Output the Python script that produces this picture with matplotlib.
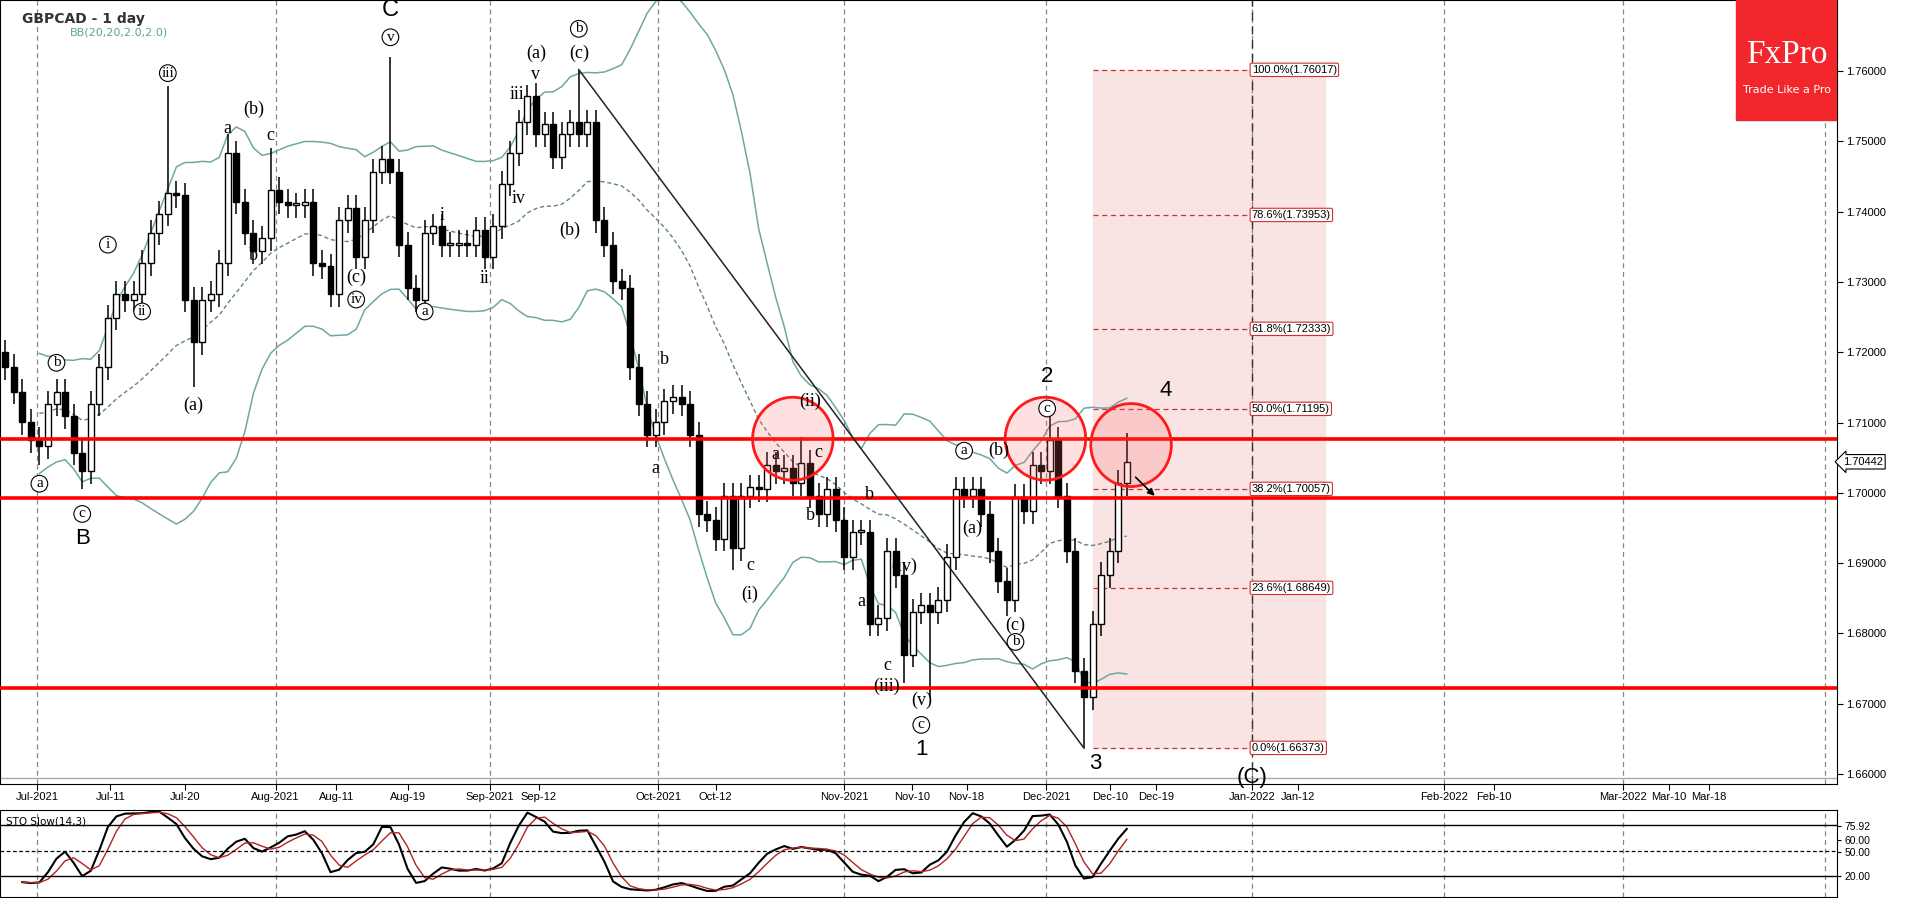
import numpy as np
import pandas as pd
import matplotlib.pyplot as plt
from matplotlib.patches import Rectangle, Ellipse

# daily closes GBPCAD
closes = [1.7179, 1.7144, 1.7101, 1.7075, 1.7066, 1.7127, 1.7144, 1.7109, 1.7057, 1.7031,
          1.7127, 1.7179, 1.7249, 1.7283, 1.7275, 1.7283, 1.7327, 1.7370, 1.7397, 1.7426,
          1.7423, 1.7275, 1.7214, 1.7275, 1.7283, 1.7327, 1.7483, 1.7414, 1.7370, 1.7344,
          1.7362, 1.7431, 1.7414, 1.7409, 1.7409, 1.7414, 1.7327, 1.7322, 1.7283, 1.7388,
          1.7405, 1.7336, 1.7388, 1.7457, 1.7475, 1.7457, 1.7353, 1.7292, 1.7275, 1.7370,
          1.7379, 1.7353, 1.7353, 1.7356, 1.7353, 1.7374, 1.7336, 1.7379, 1.7440, 1.7483,
          1.7527, 1.7565, 1.7510, 1.7524, 1.7478, 1.7510, 1.7527, 1.7510, 1.7527, 1.7388,
          1.7353, 1.7301, 1.7292, 1.7179, 1.7127, 1.7083, 1.7101, 1.7130, 1.7136, 1.7127,
          1.7083, 1.6970, 1.6962, 1.6935, 1.6996, 1.6921, 1.6996, 1.7008, 1.7005, 1.7040,
          1.7031, 1.7036, 1.7014, 1.7043, 1.6996, 1.6970, 1.7005, 1.6962, 1.6909, 1.6944,
          1.6944, 1.6814, 1.6822, 1.6918, 1.6883, 1.6770, 1.6831, 1.6840, 1.6831, 1.6848,
          1.6909, 1.7005, 1.6996, 1.7005, 1.6970, 1.6918, 1.6875, 1.6848, 1.6994, 1.6974,
          1.7040, 1.7031, 1.7075, 1.6996, 1.6918, 1.6747, 1.6709, 1.6814, 1.6883, 1.6918,
          1.7014, 1.7044]
first_open = 1.7200
# notable extremes (index: price)
high_ext = {19: 1.7578, 26: 1.7510, 31: 1.7490, 45: 1.7620, 61: 1.7580, 67: 1.7602, 93: 1.7080,
            122: 1.7110, 131: 1.7085}
low_ext = {4: 1.7040, 9: 1.7005, 22: 1.7150, 85: 1.6890, 105: 1.6730, 108: 1.6710, 117: 1.6825,
           126: 1.6637}

levels = [1.7077, 1.6993, 1.6723]
fib_pct = ["100.0%", "78.6%", "61.8%", "50.0%", "38.2%", "23.6%", "0.0%"]
fib_val = [1.76017, 1.73953, 1.72333, 1.71195, 1.70057, 1.68649, 1.66373]

tick_labels = ["Jul-2021", "Jul-11", "Jul-20", "Aug-2021", "Aug-11", "Aug-19", "Sep-2021", "Sep-12",
               "Oct-2021", "Oct-12", "Nov-2021", "Nov-10", "Nov-18", "Dec-2021", "Dec-10", "Dec-19",
               "Jan-2022", "Jan-12", "Feb-2022", "Feb-10", "Mar-2022", "Mar-10", "Mar-18"]
tick_pos = [3.7, 12.3, 21, 31.6, 38.7, 47, 56.6, 62.3, 76.3, 83, 98, 105.9, 112.3, 121.6, 129,
            134.4, 145.6, 151, 168, 173.9, 188.9, 194.3, 199]
month_pos = [3.7, 31.6, 56.6, 76.3, 98, 121.6, 145.6, 168, 188.9, 212.5]

c = np.array(closes)
o = np.concatenate([[first_open], c[:-1]])
hi = np.maximum(o, c) + 0.0018
lo = np.minimum(o, c) - 0.0018
for k, v in high_ext.items():
    hi[k] = v
for k, v in low_ext.items():
    lo[k] = v
n = len(c)
x = np.arange(n)

s = pd.Series(c)
mid = s.rolling(20, min_periods=5).mean()
sd = s.rolling(20, min_periods=5).std(ddof=0)
up, dn = mid + 2 * sd, mid - 2 * sd

hh = pd.Series(hi).rolling(14, min_periods=3).max()
ll = pd.Series(lo).rolling(14, min_periods=3).min()
k_fast = 100 * (s - ll) / (hh - ll)
k_slow = k_fast.rolling(3, min_periods=1).mean()
d_slow = k_slow.rolling(3, min_periods=1).mean()

fig = plt.figure(figsize=(19.18, 8.98), dpi=100)
ax = fig.add_axes([0.0, 0.127, 0.958, 0.873])
ax2 = fig.add_axes([0.0, 0.001, 0.958, 0.097])
XL = (-0.6, 214)
axfont = dict(fontsize=8, family='Liberation Sans', stretch='condensed')

for m in month_pos:
    ax.axvline(m, color='#888888', ls=(0, (4, 3)), lw=0.9)
    ax2.axvline(m, color='#888888', ls=(0, (4, 3)), lw=0.9)
ax.axvline(145.6, color='#333333', ls=(0, (6, 4)), lw=1.0)

# fib box
ax.add_patch(Rectangle((127, fib_val[-1]), 27.2, fib_val[0] - fib_val[-1], color='#f9e3e3', zorder=0))
for p, v in zip(fib_pct, fib_val):
    ax.plot([127, 145.3], [v, v], color='#d03030', ls=(0, (4, 3)), lw=0.9)
    ax.text(145.6, v, f"{p}({v:.5f})", va='center', ha='left', **axfont,
            bbox=dict(boxstyle='round,pad=0.15', fc='white', ec='#d03030', lw=0.8))

ax.plot(x, up, color='#6fa6a6', lw=1.1)
ax.plot(x, dn, color='#6fa6a6', lw=1.1)
ax.plot(x, mid, color='#5f8585', lw=1.0, ls=(0, (3, 2)))

for i in x:
    ax.vlines(i, lo[i], hi[i], color='black', lw=1.1, zorder=3)
    b0, b1 = min(o[i], c[i]), max(o[i], c[i])
    fc = 'white' if c[i] >= o[i] else 'black'
    ax.add_patch(Rectangle((i - 0.35, b0), 0.7, max(b1 - b0, 0.0003), fc=fc, ec='black', lw=1.0, zorder=4))

for lv in levels:
    ax.axhline(lv, color='#ff0000', lw=2.6, zorder=5)
ax.plot([67, 126], [1.7602, 1.6637], color='#222222', lw=1.1, zorder=5)
for cx, cy in [(92, 1.7077), (121.5, 1.7077), (131.5, 1.7068)]:
    ax.add_patch(Ellipse((cx, cy), 9.4, 0.0118, fc=(1, 0.4, 0.4, 0.2), ec='#ff1a1a', lw=2, zorder=6))
ax.annotate("", xy=(134.5, 1.6993), xytext=(131.8, 1.7025),
            arrowprops=dict(arrowstyle='-|>', color='black', lw=1.2), zorder=7)

serif = 'Liberation Serif'
def lab(i, p, t, circ=False, fs=13, fam=serif):
    kw = dict(fontsize=fs, ha='center', va='center', family=fam, zorder=8)
    if circ:
        kw['bbox'] = dict(boxstyle='circle,pad=0.12', fc='white', ec='black', lw=0.8)
    ax.text(i, p, t, **kw)

lab(4, 1.7038 - 0.0025, 'a', True, 11)
lab(6, 1.7185, 'b', True, 11)
lab(9, 1.6995 - 0.0025, 'c', True, 11)
lab(9, 1.6965 - 0.003, 'B', fs=16, fam='Liberation Sans')
lab(12, 1.7353, 'i', True, 11)
lab(16, 1.7258, 'ii', True, 11)
lab(19, 1.7597, 'iii', True, 11)
lab(22, 1.7125, '(a)')
lab(26, 1.7518, 'a')
lab(29, 1.7545, '(b)')
lab(31, 1.7508, 'c')
lab(29, 1.7337, 'b')
lab(41, 1.7307, '(c)')
lab(41, 1.7275, 'iv', True, 11)
lab(45, 1.7648, 'v', True, 11)
lab(45, 1.7687, 'C', fs=17, fam='Liberation Sans')
lab(49, 1.7258, 'a', True, 11)
lab(51, 1.7395, 'i')
lab(56, 1.7305, 'ii')
lab(59.8, 1.7567, 'iii')
lab(62, 1.7595, 'v')
lab(62, 1.7625, '(a)')
lab(60, 1.7418, 'iv')
lab(66, 1.7374, '(b)')
lab(67, 1.7625, '(c)')
lab(67, 1.7660, 'b', True, 11)
lab(76, 1.7035, 'a')
lab(77, 1.7190, 'b')
lab(87, 1.6897, 'c')
lab(87, 1.6856, '(i)')
lab(90, 1.7055, 'a')
lab(94, 1.7130, '(ii)')
lab(95, 1.7057, 'c')
lab(94, 1.6968, 'b')
lab(101, 1.6997, 'b')
lab(100, 1.6845, 'a')
lab(105, 1.6895, '(iv)')
lab(103, 1.6755, 'c')
lab(103, 1.6725, '(iii)')
lab(107, 1.6705, '(v)')
lab(107, 1.6670, 'c', True, 11)
lab(107, 1.6635, '1', fs=16, fam='Liberation Sans')
lab(112, 1.7060, 'a', True, 11)
lab(116, 1.7060, '(b)')
lab(113, 1.6950, '(a)')
lab(118, 1.6812, '(c)')
lab(118, 1.6788, 'b', True, 11)
lab(121.7, 1.7120, 'c', True, 11)
lab(121.7, 1.7165, '2', fs=16, fam='Liberation Sans')
lab(127.3, 1.6615, '3', fs=16, fam='Liberation Sans')
lab(135.5, 1.7145, '4', fs=16, fam='Liberation Sans')
lab(145.6, 1.6595, '(C)', fs=16, fam='Liberation Sans')

ax.set_xlim(*XL)
ax.set_ylim(1.6586, 1.7701)
ax.yaxis.tick_right()
yt = np.arange(1.66, 1.7601, 0.01)
ax.set_yticks(yt)
ax.set_yticklabels([f"{v:.5f}" for v in yt], **axfont)
ax.set_xticks(tick_pos)
ax.set_xticklabels(tick_labels, **axfont)
ax.tick_params(axis='both', length=4, pad=2)
ax.text(1.003, 1.70442, "1.70442", transform=ax.get_yaxis_transform(), va='center', **axfont,
        bbox=dict(boxstyle='larrow,pad=0.2', fc='white', ec='black', lw=0.8))
ax.axhline(1.6595, color='#aaaaaa', lw=1)

ax.text(0.012, 0.985, "GBPCAD - 1 day", transform=ax.transAxes, fontsize=10, fontweight='bold',
        color='#333333', va='top')
ax.text(0.038, 0.965, "BB(20,20,2.0,2.0)", transform=ax.transAxes, fontsize=8, color='#5f9ea0', va='top')
ax.add_patch(Rectangle((0.945, 0.847), 0.055, 0.153, transform=ax.transAxes, color='#f2262b', zorder=9))
ax.text(0.9725, 0.93, "FxPro", transform=ax.transAxes, color='white', fontsize=24, ha='center',
        va='center', family='Liberation Serif', zorder=10)
ax.text(0.9725, 0.885, "Trade Like a Pro", transform=ax.transAxes, color='white', fontsize=8,
        ha='center', va='center', zorder=10)

# stochastic
ax2.plot(x, k_slow, color='black', lw=1.5)
ax2.plot(x, d_slow, color='#b22222', lw=1.0)
ax2.axhline(80, color='black', lw=1)
ax2.axhline(20, color='black', lw=1)
ax2.axhline(50, color='black', lw=0.9, ls=(0, (3, 2)))
ax2.set_xlim(*XL)
ax2.set_ylim(-4, 97)
ax2.set_xticks([])
ax2.yaxis.tick_right()
ax2.set_yticks([20, 48, 62, 78])
ax2.set_yticklabels(["20.00", "50.00", "60.00", "75.92"], fontsize=7.5, family='Liberation Sans',
                    stretch='condensed')
ax2.tick_params(axis='y', length=3, pad=2)
ax2.text(0.003, 0.93, "STO Slow(14,3)", transform=ax2.transAxes, fontsize=7.5, va='top')

fig.savefig("out.png", dpi=100)
